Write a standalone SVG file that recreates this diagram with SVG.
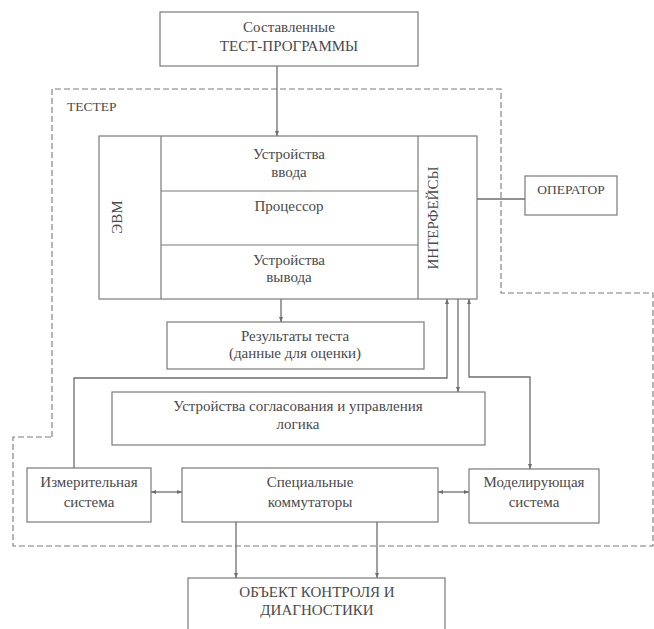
<svg xmlns="http://www.w3.org/2000/svg" width="654" height="629" viewBox="0 0 654 629">
<style>
.box{fill:none;stroke:#7a7a7a;stroke-width:1.2}
.line{fill:none;stroke:#6e6e6e;stroke-width:1.3}
.bound{fill:none;stroke:#7a7a7a;stroke-width:1.1;stroke-dasharray:6 3}
text{font-family:'Liberation Serif','DejaVu Serif',serif;font-size:15px;fill:#4a4a4a;text-anchor:middle}
.cap{font-size:13.5px}
.lbl{text-anchor:start}
</style>
<defs>
<marker id="ah" viewBox="0 0 10 10" refX="10" refY="5" markerWidth="5" markerHeight="5" orient="auto-start-reverse" markerUnits="userSpaceOnUse">
<path d="M0,1 L10,5 L0,9 Z" fill="#6e6e6e"/>
</marker>
</defs>
<rect width="654" height="629" fill="#ffffff"/>

<g id="tester-boundary" font-family="Liberation Serif, serif">
<path class="bound" d="M52,437 V89 H501 V293 H653 V546 H13 V437 Z"/>
<text class="lbl cap" x="67" y="111">ТЕСТЕР</text>
</g>

<g id="test-programs" font-family="Liberation Serif, serif">
<rect class="box" x="160" y="12" width="258" height="54"/>
<text x="289" y="32">Составленные</text>
<text x="289" y="51">ТЕСТ-ПРОГРАММЫ</text>
</g>

<g id="evm" font-family="Liberation Serif, serif">
<rect class="box" x="99" y="136" width="378" height="163"/>
<line class="box" x1="161" y1="136" x2="161" y2="299"/>
<line class="box" x1="418" y1="136" x2="418" y2="299"/>
<line class="box" x1="161" y1="191" x2="418" y2="191"/>
<line class="box" x1="161" y1="245" x2="418" y2="245"/>
<text transform="translate(122,217) rotate(-90)">ЭВМ</text>
<text x="289" y="159">Устройства</text>
<text x="289" y="177">ввода</text>
<text x="289" y="211">Процессор</text>
<text x="289" y="265">Устройства</text>
<text x="289" y="282">вывода</text>
</g>

<g id="interfaces" font-family="Liberation Serif, serif">
<text transform="translate(438,218) rotate(-90)">ИНТЕРФЕЙСЫ</text>
</g>

<g id="operator" font-family="Liberation Serif, serif">
<rect class="box" x="525" y="176" width="92" height="39"/>
<text class="cap" x="571" y="194">ОПЕРАТОР</text>
</g>

<g id="results" font-family="Liberation Serif, serif">
<rect class="box" x="167" y="322" width="257" height="47"/>
<text x="295" y="341">Результаты теста</text>
<text x="295" y="358">(данные для оценки)</text>
</g>

<g id="coordination" font-family="Liberation Serif, serif">
<rect class="box" x="112" y="392" width="373" height="53"/>
<text x="298" y="411">Устройства согласования и управления</text>
<text x="298" y="429">логика</text>
</g>

<g id="measuring" font-family="Liberation Serif, serif">
<rect class="box" x="27" y="468" width="124" height="54"/>
<text x="89" y="487">Измерительная</text>
<text x="89" y="507">система</text>
</g>

<g id="switches" font-family="Liberation Serif, serif">
<rect class="box" x="182" y="468" width="256" height="54"/>
<text x="310" y="487">Специальные</text>
<text x="310" y="507">коммутаторы</text>
</g>

<g id="modeling" font-family="Liberation Serif, serif">
<rect class="box" x="469" y="469" width="130" height="54"/>
<text x="534" y="487">Моделирующая</text>
<text x="534" y="507">система</text>
</g>

<g id="object" font-family="Liberation Serif, serif">
<rect class="box" x="188" y="578" width="257" height="60"/>
<text x="317" y="597">ОБЪЕКТ КОНТРОЛЯ И</text>
<text x="317" y="615">ДИАГНОСТИКИ</text>
</g>

<g id="connectors">
<line class="line" x1="277" y1="66" x2="277" y2="136" marker-end="url(#ah)"/>
<line class="line" x1="281" y1="299" x2="281" y2="322" marker-end="url(#ah)"/>
<line class="line" x1="477" y1="199" x2="525" y2="199"/>
<path class="line" d="M74,468 V378 H447 V299" marker-end="url(#ah)"/>
<line class="line" x1="458" y1="299" x2="458" y2="392" marker-end="url(#ah)"/>
<path class="line" d="M469,299 V377 H530 V469" marker-start="url(#ah)" marker-end="url(#ah)"/>
<line class="line" x1="151" y1="492" x2="182" y2="492" marker-start="url(#ah)" marker-end="url(#ah)"/>
<line class="line" x1="438" y1="492" x2="469" y2="492" marker-start="url(#ah)" marker-end="url(#ah)"/>
<line class="line" x1="236" y1="522" x2="236" y2="578" marker-end="url(#ah)"/>
<line class="line" x1="377" y1="522" x2="377" y2="578" marker-end="url(#ah)"/>
</g>
</svg>
